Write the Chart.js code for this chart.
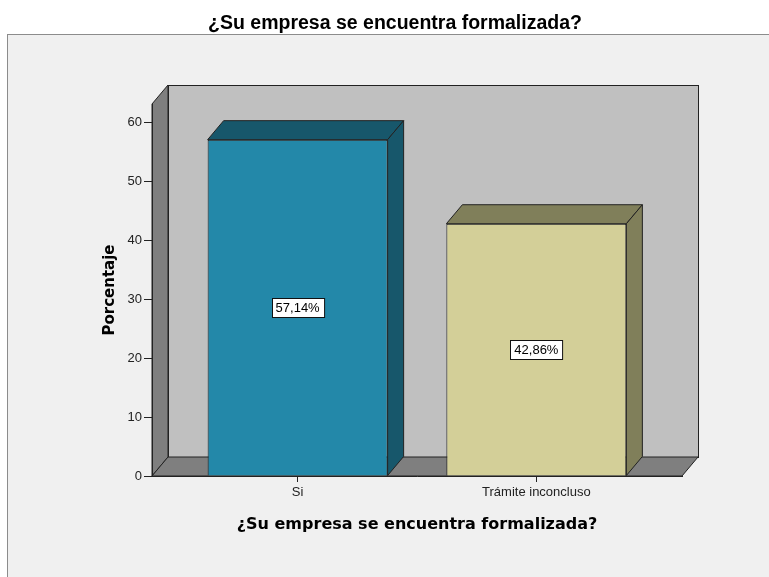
<!DOCTYPE html>
<html>
<head>
<meta charset="utf-8">
<script src="https://cdn.jsdelivr.net/npm/chart.js@4.4.1/dist/chart.umd.min.js"></script>
<style>
  html, body { margin: 0; padding: 0; background: #ffffff; }
  #wrap { width: 769px; height: 577px; position: relative; }
</style>
</head>
<body>
<div id="wrap"><canvas id="grafico" width="769" height="577"></canvas></div>
<script>
const titulo = '¿Su empresa se encuentra formalizada?';
const categorias = ['Si', 'Trámite inconcluso'];
const porcentajes = [57.14, 42.86];
const yTicks = [0, 10, 20, 30, 40, 50, 60];

const coresFrente = ['#2388a9', '#d3cf98'];
const coresLado = ['#17576b', '#807f5a'];
const PROF_X = 16, PROF_Y = -19; // profundidade 3D

const fundo3d = {
    id: 'fundo3d',
    beforeDraw(chart) {
        const ctx = chart.ctx;
        const { left, right, top, bottom } = chart.chartArea;
        ctx.save();
        ctx.fillStyle = '#ffffff';
        ctx.fillRect(0, 0, chart.width, chart.height);
        // moldura
        ctx.fillStyle = '#f0f0f0';
        ctx.fillRect(7.5, 34.5, 800, 600);
        ctx.strokeStyle = '#8c8c8c';
        ctx.lineWidth = 1;
        ctx.strokeRect(7.5, 34.5, 800, 600);
        // titulo
        ctx.fillStyle = '#000';
        ctx.font = 'bold 19.5px "Liberation Sans", Arial, sans-serif';
        ctx.textAlign = 'center';
        ctx.textBaseline = 'alphabetic';
        ctx.fillText(titulo, 395, 29);

        ctx.strokeStyle = '#222';
        // parede do fundo
        ctx.fillStyle = '#c0c0c0';
        ctx.fillRect(left + PROF_X, top + PROF_Y, right - left, bottom - top);
        ctx.strokeRect(left + PROF_X + 0.5, top + PROF_Y + 0.5, right - left, bottom - top);
        // parede esquerda
        ctx.fillStyle = '#7f7f7f';
        ctx.beginPath();
        ctx.moveTo(left, top);
        ctx.lineTo(left + PROF_X, top + PROF_Y);
        ctx.lineTo(left + PROF_X, bottom + PROF_Y);
        ctx.lineTo(left, bottom);
        ctx.closePath();
        ctx.fill();
        ctx.stroke();
        // piso
        ctx.beginPath();
        ctx.moveTo(left, bottom);
        ctx.lineTo(right, bottom);
        ctx.lineTo(right + PROF_X, bottom + PROF_Y);
        ctx.lineTo(left + PROF_X, bottom + PROF_Y);
        ctx.closePath();
        ctx.fill();
        ctx.stroke();
        ctx.restore();
    },
    afterDatasetsDraw(chart) {
        const ctx = chart.ctx;
        const meta = chart.getDatasetMeta(0);
        ctx.save();
        ctx.strokeStyle = '#222';
        ctx.lineWidth = 1;
        meta.data.forEach((bar, i) => {
            const esq = bar.x - bar.width / 2;
            const dir = bar.x + bar.width / 2;
            ctx.fillStyle = coresLado[i];
            // topo
            ctx.beginPath();
            ctx.moveTo(esq, bar.y);
            ctx.lineTo(esq + PROF_X, bar.y + PROF_Y);
            ctx.lineTo(dir + PROF_X, bar.y + PROF_Y);
            ctx.lineTo(dir, bar.y);
            ctx.closePath();
            ctx.fill();
            ctx.stroke();
            // lado
            ctx.beginPath();
            ctx.moveTo(dir, bar.y);
            ctx.lineTo(dir + PROF_X, bar.y + PROF_Y);
            ctx.lineTo(dir + PROF_X, bar.base + PROF_Y);
            ctx.lineTo(dir, bar.base);
            ctx.closePath();
            ctx.fill();
            ctx.stroke();

            // rotulo
            const txt = porcentajes[i].toFixed(2).replace('.', ',') + '%';
            ctx.font = '13px "Liberation Sans", Arial, sans-serif';
            const w = ctx.measureText(txt).width + 8;
            const h = 19;
            const cy = (bar.y + bar.base) / 2;
            const bx = Math.round(bar.x - w / 2) + 0.5;
            const by = Math.round(cy - h / 2) + 0.5;
            ctx.fillStyle = '#ffffff';
            ctx.fillRect(bx, by, w, h);
            ctx.strokeStyle = '#111';
            ctx.strokeRect(bx, by, w, h);
            ctx.fillStyle = '#000';
            ctx.textAlign = 'center';
            ctx.textBaseline = 'middle';
            ctx.fillText(txt, bar.x, cy + 1);
            ctx.strokeStyle = '#222';
        });
        ctx.restore();
    }
};

new Chart(document.getElementById('grafico'), {
    type: 'bar',
    data: {
        datasets: [{
            data: porcentajes.map((v, i) => ({ x: i, y: v })),
            backgroundColor: coresFrente,
            borderColor: '#1a1a1a',
            borderWidth: 1,
            barPercentage: 0.754,
            categoryPercentage: 1
        }]
    },
    options: {
        responsive: false,
        animation: false,
        layout: { padding: { top: 104, left: 88, right: 87, bottom: 0 } },
        plugins: {
            legend: { display: false },
            tooltip: { enabled: false }
        },
        scales: {
            x: {
                type: 'linear',
                min: -0.61,
                max: 1.61,
                offset: false,
                afterBuildTicks: (s) => { s.ticks = categorias.map((c, i) => ({ value: i })); },
                afterFit: (s) => { s.height = 101; },
                grid: { display: true, drawOnChartArea: false, offset: false, tickLength: 6, color: '#222' },
                border: { display: true, color: '#222' },
                ticks: {
                    padding: 3,
                    color: '#222',
                    font: { family: '"Liberation Sans", Arial', size: 13 },
                    callback: (v) => categorias[v] ?? ''
                },
                title: {
                    display: true,
                    text: titulo,
                    color: '#000',
                    font: { family: '"DejaVu Sans", Verdana', size: 16, weight: 'bold' },
                    padding: { top: 0, bottom: 43 }
                }
            },
            y: {
                min: 0,
                max: 63.2,
                afterBuildTicks: (s) => { s.ticks = yTicks.map(v => ({ value: v })); },
                afterFit: (s) => { s.width = 64; },
                grid: { display: true, drawOnChartArea: false, tickLength: 8, color: '#222' },
                border: { display: true, color: '#222' },
                ticks: {
                    padding: 2,
                    color: '#222',
                    font: { family: '"Liberation Sans", Arial', size: 13 }
                },
                title: {
                    display: true,
                    text: 'Porcentaje',
                    color: '#000',
                    font: { family: '"DejaVu Sans", Verdana', size: 15, weight: 'bold' },
                    padding: { top: 13, bottom: 0 }
                }
            }
        }
    },
    plugins: [fundo3d]
});
</script>
</body>
</html>
